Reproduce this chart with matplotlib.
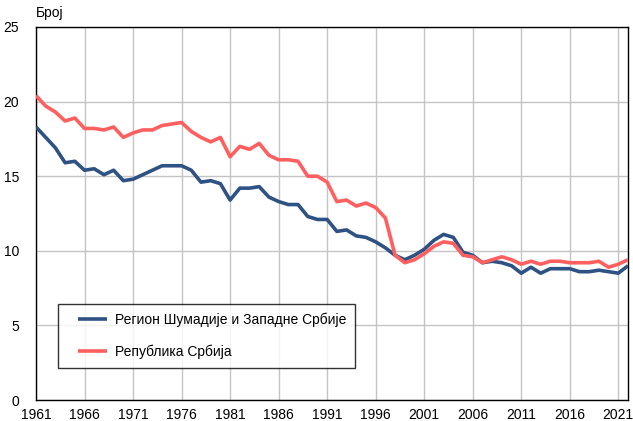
import matplotlib
matplotlib.use("Agg")
import matplotlib.pyplot as plt
from matplotlib.legend_handler import HandlerLine2D

plt.rcParams['font.family'] = ['Liberation Sans', 'DejaVu Sans']

years = list(range(1961, 2023))
region = [18.3, 17.6, 16.9, 15.9, 16.0, 15.4, 15.5, 15.1, 15.4, 14.7,
          14.8, 15.1, 15.4, 15.7, 15.7, 15.7, 15.4, 14.6, 14.7, 14.5,
          13.4, 14.2, 14.2, 14.3, 13.6, 13.3, 13.1, 13.1, 12.3, 12.1,
          12.1, 11.3, 11.4, 11.0, 10.9, 10.6, 10.2, 9.7, 9.4, 9.7,
          10.1, 10.7, 11.1, 10.9, 9.9, 9.7, 9.2, 9.3, 9.2, 9.0,
          8.5, 8.9, 8.5, 8.8, 8.8, 8.8, 8.6, 8.6, 8.7, 8.6,
          8.5, 9.0]
serbia = [20.4, 19.7, 19.3, 18.7, 18.9, 18.2, 18.2, 18.1, 18.3, 17.6,
          17.9, 18.1, 18.1, 18.4, 18.5, 18.6, 18.0, 17.6, 17.3, 17.6,
          16.3, 17.0, 16.8, 17.2, 16.4, 16.1, 16.1, 16.0, 15.0, 15.0,
          14.6, 13.3, 13.4, 13.0, 13.2, 12.9, 12.2, 9.7, 9.2, 9.4,
          9.8, 10.3, 10.6, 10.5, 9.7, 9.6, 9.2, 9.4, 9.6, 9.4,
          9.1, 9.3, 9.1, 9.3, 9.3, 9.2, 9.2, 9.2, 9.3, 8.9,
          9.1, 9.4]
labels = ["Регион Шумадије и Западне Србије", "Република Србија"]
xticks = list(range(1961, 2022, 5))
yticks = [0, 5, 10, 15, 20, 25]


class ShiftedLine(HandlerLine2D):
    def create_artists(self, legend, orig_handle, xdescent, ydescent,
                       width, height, fontsize, trans):
        arts = super().create_artists(legend, orig_handle, xdescent, ydescent,
                                      width, height, fontsize, trans)
        line = arts[0]
        x = list(line.get_xdata())
        y = list(line.get_ydata())
        x0, x1 = x[0], x[-1]
        line.set_data([x0 + 0.3 * (x1 - x0), x1], [y[0], y[0]])
        return arts


fig = plt.figure(figsize=(6.33, 4.21), dpi=100)
ax = fig.add_axes([36/633, 1-400/421, (628-36)/633, (400-27)/421])

ax.plot(years, region, color='#2e5283', lw=2.6, label=labels[0], solid_capstyle='butt', zorder=3)
ax.plot(years, serbia, color='#ff5f5f', lw=2.6, label=labels[1], solid_capstyle='butt', zorder=3)

ax.set_xlim(1961, 2022)
ax.set_ylim(0, 25)
ax.set_xticks(xticks)
ax.set_yticks(yticks)
ax.tick_params(axis='both', length=0, labelsize=10, colors='black')
ax.tick_params(axis='x', pad=6)
ax.tick_params(axis='y', pad=12)
ax.grid(True, color='#c4c4c4', lw=1)
ax.set_axisbelow(True)
for s in ax.spines.values():
    s.set_color('black')
    s.set_linewidth(1)

fig.text(36/633, 1-13/421, "Број", fontsize=10, va='center', ha='left')

leg = ax.legend(loc='upper left', bbox_to_anchor=(58/633, 1-304/421),
                bbox_transform=fig.transFigure, fontsize=10, frameon=True,
                fancybox=False, edgecolor='black', handlelength=2.9,
                handletextpad=0.6, labelspacing=1.3, borderpad=0.6,
                borderaxespad=0,
                handler_map={plt.Line2D: ShiftedLine()})
leg.get_frame().set_linewidth(1)
leg.set_zorder(5)

fig.savefig("out.png", dpi=100)
